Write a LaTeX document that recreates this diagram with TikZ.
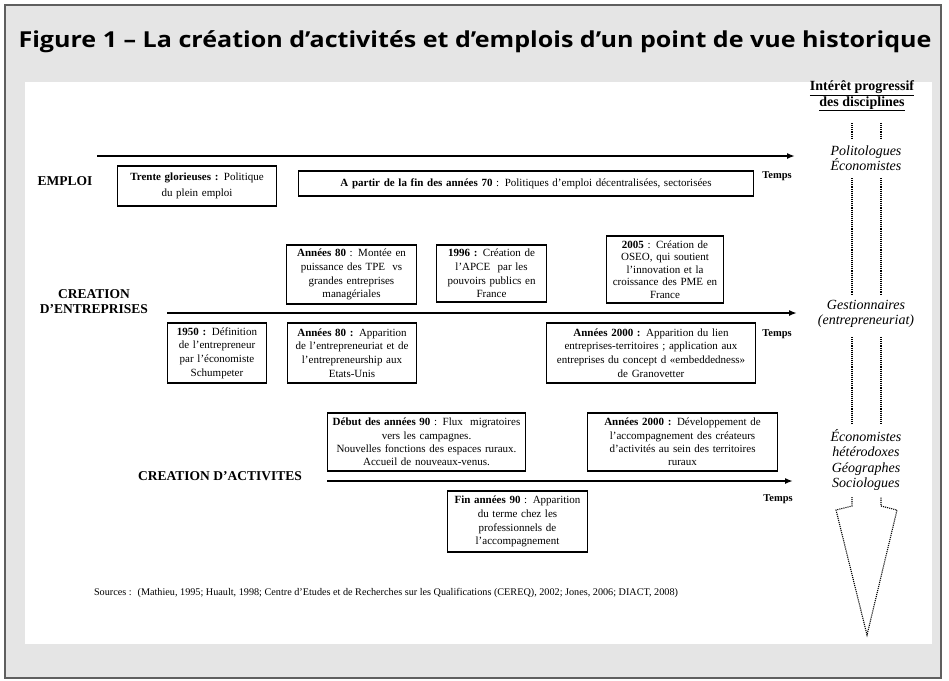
\documentclass[tikz,border=0pt]{standalone}
\usepackage{fontspec}
\setmainfont{Liberation Serif}
\newfontfamily\titlefont{Open Sans}
\usetikzlibrary{arrows.meta}
\definecolor{panelgray}{RGB}{229,229,229}
\definecolor{framegray}{RGB}{95,95,95}
\tikzset{
  evt/.style={draw, line width=1.1pt, align=center, inner sep=2pt,
    font=\fontsize{11}{13.8}\selectfont},
  timeline/.style={line width=2pt, -{Latex[length=8pt,width=6pt]}},
  field/.style={font=\fontsize{13.5}{15}\selectfont\bfseries, align=center},
  temps/.style={font=\fontsize{10.5}{12}\selectfont\bfseries},
  discipline/.style={font=\fontsize{14}{15.5}\selectfont\itshape, align=center},
  interest/.style={densely dotted, line width=1.1pt},
}

\begin{document}
\begin{tikzpicture}[x=1pt,y=-1pt]
    \useasboundingbox (0,0) rectangle (949,680);
    \draw[framegray, line width=1.5pt, fill=panelgray] (5,5) rectangle (941,678);
    \fill[white] (25,82) rectangle (932,644);
    \node[anchor=base, font=\titlefont\fontsize{22}{24}\selectfont\bfseries] (title) at (475,47)
      {\scalebox{1.14}[1]{Figure 1 – La création d’activités et d’emplois d’un point de vue historique}};

    % emploi
    \node[field] (emploi) at (65,181) {EMPLOI};
    \coordinate (emploiStart) at (97,156);
    \coordinate (emploiEnd) at (795,156);
    \draw[timeline] (emploiStart) -- (emploiEnd);
    \node[evt, font=\fontsize{11}{16}\selectfont, text width=155pt, minimum height=40pt] (trente) at (197,186)
      {\textbf{Trente glorieuses :} Politique\\du plein emploi};
    \node[evt, text width=451pt, minimum height=25pt] (decentral) at (526,183.5)
      {\textbf{A partir de la fin des années 70} : Politiques d’emploi décentralisées, sectorisées};
    \node[temps] (tempsEmploi) at (777,176) {Temps};

    % creation d'entreprises
    \node[field] (entreprises) at (94,302) {CREATION\\D’ENTREPRISES};
    \coordinate (entrStart) at (167,313);
    \coordinate (entrEnd) at (797,313);
    \draw[timeline] (entrStart) -- (entrEnd);
    \node[evt, text width=126pt, minimum height=59pt] (tpe) at (351.5,274.5)
      {\textbf{Années 80} : Montée en\\puissance des TPE~ vs\\grandes entreprises\\managériales};
    \node[evt, text width=106pt, minimum height=57pt] (apce) at (491.5,273.5)
      {\textbf{1996 :} Création de\\l’APCE~ par les\\pouvoirs publics en\\France};
    \node[evt, font=\fontsize{11}{12.6}\selectfont, text width=113pt, minimum height=67pt] (oseo) at (665,269.5)
      {\textbf{2005} : Création de\\OSEO, qui soutient\\l’innovation et la\\croissance des PME en\\France};
    \node[evt, text width=95pt, minimum height=60pt] (schumpeter) at (217,353)
      {\textbf{1950 :} Définition\\de l’entrepreneur\\par l’économiste\\Schumpeter};
    \node[evt, text width=125pt, minimum height=60pt] (etatsunis) at (352,353)
      {\textbf{Années 80 :} Apparition\\de l’entrepreneuriat et de\\l’entrepreneurship aux\\Etats-Unis};
    \node[evt, text width=205pt, minimum height=60pt] (granovetter) at (651,353)
      {\textbf{Années 2000 :} Apparition du lien\\entreprises-territoires ; application aux\\entreprises du concept d «embeddedness»\\de Granovetter};
    \node[temps] (tempsEntr) at (777,334) {Temps};

    % creation d'activites
    \node[field] (activites) at (220,476) {CREATION D’ACTIVITES};
    \coordinate (activStart) at (327,481);
    \coordinate (activEnd) at (793,481);
    \draw[timeline] (activStart) -- (activEnd);
    \node[evt, font=\fontsize{11}{13.2}\selectfont, text width=194pt, minimum height=58pt] (migration) at (426.5,442)
      {\textbf{Début des années 90} : Flux~ migratoires\\vers les campagnes.\\Nouvelles fonctions des espaces ruraux.\\Accueil de nouveaux-venus.};
    \node[evt, font=\fontsize{11}{13.2}\selectfont, text width=186pt, minimum height=58pt] (ruraux) at (682.5,442)
      {\textbf{Années 2000 :} Développement de\\l’accompagnement des créateurs\\d’activités au sein des territoires\\ruraux};
    \node[evt, text width=136pt, minimum height=61pt] (terme) at (517.5,521.5)
      {\textbf{Fin années 90} : Apparition\\du terme chez les\\professionnels de\\l’accompagnement};
    \node[temps] (tempsActiv) at (778,499) {Temps};

    \node[font=\fontsize{10.2}{12}\selectfont] (sources) at (386,593)
      {Sources :~ (Mathieu, 1995; Huault, 1998; Centre d’Etudes et de Recherches sur les Qualifications (CEREQ), 2002; Jones, 2006; DIACT, 2008)};

    % disciplines
    \node[font=\fontsize{14}{15.5}\selectfont\bfseries, align=center] (interet) at (862,96)
      {\underline{Intérêt progressif}\\\underline{des disciplines}};
    \node[discipline] (politologues) at (866,158) {Politologues\\Économistes};
    \node[discipline] (gestionnaires) at (866,314) {Gestionnaires\\(entrepreneuriat)};
    \node[discipline] (sociologues) at (866,460) {Économistes\\hétérodoxes\\Géographes\\Sociologues};
    \draw[interest] (852,123) -- (852,138);
    \draw[interest] (881,123) -- (881,138);
    \draw[interest] (852,178) -- (852,295);
    \draw[interest] (881,178) -- (881,295);
    \draw[interest] (852,337) -- (852,425);
    \draw[interest] (881,337) -- (881,425);
    \draw[interest] (852,497) -- (852,506) -- (836,510) -- (867,635) -- (897,510) -- (881,506) -- (881,497);
\end{tikzpicture}
\end{document}
